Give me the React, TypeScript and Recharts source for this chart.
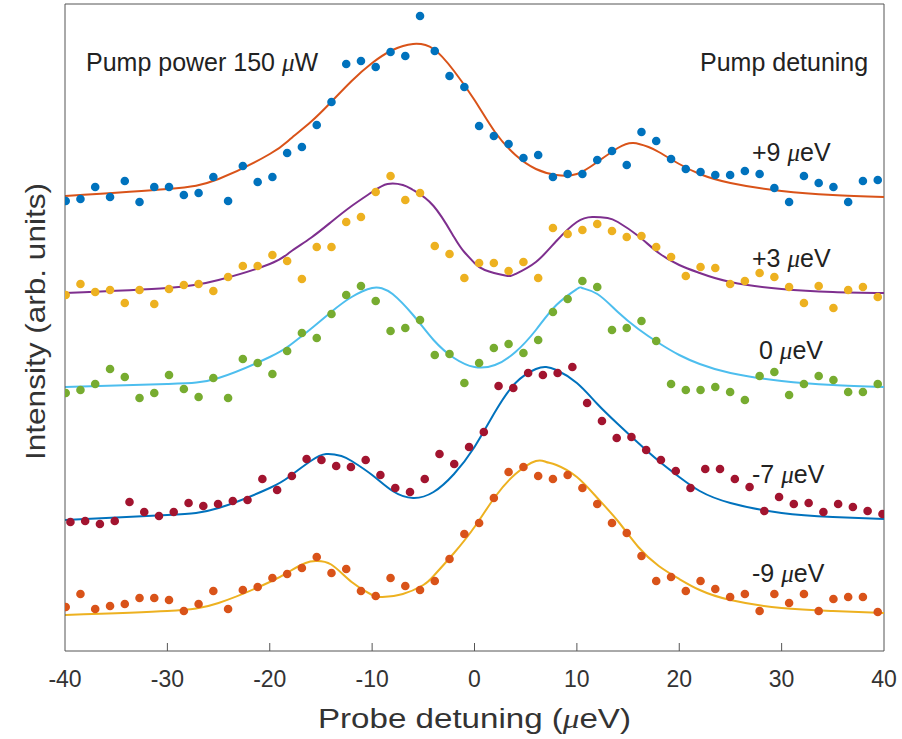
import React from "react";
import {
  ComposedChart,
  Scatter,
  Line,
  XAxis,
  YAxis,
  ReferenceLine,
} from "recharts";

// ---------------- data ----------------
// probe detuning grid (µeV) of the measured points
const X_GRID = [
  -39.93, -38.49, -37.05, -35.6, -34.16, -32.72, -31.28, -29.84, -28.39, -26.95,
  -25.51, -24.07, -22.63, -21.18, -19.74, -18.3, -16.86, -15.41, -13.97, -12.53,
  -11.09, -9.65, -8.2, -6.76, -5.32, -3.88, -2.44, -0.99, 0.45, 1.89,
  3.33, 4.78, 6.22, 7.66, 9.1, 10.54, 11.99, 13.43, 14.87, 16.31,
  17.75, 19.2, 20.64, 22.08, 23.52, 24.97, 26.41, 27.85, 29.29, 30.73,
  32.18, 33.62, 35.06, 36.5, 37.94, 39.39,
];
// grid of the -7 µeV points (slightly shifted)
const X_GRID_M7 = [
  -39.47, -38.03, -36.59, -35.14, -33.7, -32.26, -30.82, -29.38, -27.93, -26.49,
  -25.05, -23.61, -22.17, -20.72, -19.28, -17.84, -16.4, -14.95, -13.51, -12.07,
  -10.63, -9.19, -7.74, -6.3, -4.86, -3.42, -1.98, -0.53, 0.91, 2.35,
  3.79, 5.24, 6.68, 8.12, 9.56, 11.0, 12.45, 13.89, 15.33, 16.77,
  18.21, 19.66, 21.1, 22.54, 23.98, 25.43, 26.87, 28.31, 29.75, 31.19,
  32.64, 34.08, 35.52, 36.96, 38.4, 39.85,
];

// measured intensities (arb. units, vertically offset)
const PTS_P9 = [
  4.5, 4.52, 4.64, 4.54, 4.7, 4.49, 4.64, 4.64, 4.56, 4.58,
  4.74, 4.5, 4.85, 4.69, 4.74, 4.98, 5.04, 5.26, 5.49, 5.87,
  5.9, 5.84, 5.99, 5.95, 6.35, 6.0, 5.75, 5.64, 5.25, 5.15,
  5.07, 4.93, 4.96, 4.74, 4.77, 4.77, 4.91, 5.0, 4.86, 5.19,
  5.1, 4.92, 4.82, 4.79, 4.76, 4.76, 4.8, 4.77, 4.63, 4.49,
  4.75, 4.68, 4.64, 4.49, 4.7, 4.71,
];
const PTS_P3 = [
  3.56, 3.67, 3.59, 3.61, 3.48, 3.61, 3.47, 3.62, 3.66, 3.67,
  3.6, 3.74, 3.85, 3.85, 3.96, 3.9, 3.72, 4.04, 4.04, 4.29,
  4.34, 4.59, 4.75, 4.51, 4.58, 4.05, 3.97, 3.73, 3.88, 3.88,
  3.8, 3.89, 3.73, 4.23, 4.17, 4.21, 4.27, 4.2, 4.14, 4.15,
  4.04, 3.94, 3.75, 3.84, 3.83, 3.67, 3.7, 3.78, 3.74, 3.64,
  3.48, 3.65, 3.43, 3.61, 3.64, 3.54,
];
const PTS_0 = [
  2.58, 2.61, 2.67, 2.82, 2.74, 2.53, 2.58, 2.76, 2.62, 2.54,
  2.73, 2.53, 2.92, 2.88, 2.77, 3.0, 3.18, 3.13, 3.37, 3.56,
  3.65, 3.5, 3.2, 3.23, 3.31, 2.96, 2.97, 2.68, 2.88, 3.03,
  3.07, 2.98, 3.11, 3.39, 3.52, 3.7, 3.64, 3.21, 3.23, 3.3,
  3.1, 2.67, 2.61, 2.61, 2.64, 2.59, 2.51, 2.75, 2.79, 2.56,
  2.67, 2.75, 2.71, 2.59, 2.59, 2.67,
];
const PTS_M7 = [
  1.29, 1.3, 1.27, 1.3, 1.49, 1.39, 1.35, 1.39, 1.48, 1.45,
  1.47, 1.5, 1.51, 1.72, 1.61, 1.75, 1.92, 1.91, 1.85, 1.84,
  1.91, 1.76, 1.63, 1.59, 1.72, 1.97, 1.87, 2.04, 2.19, 2.65,
  2.63, 2.78, 2.76, 2.78, 2.84, 2.48, 2.3, 2.13, 2.14, 2.01,
  1.91, 1.8, 1.63, 1.82, 1.82, 1.72, 1.64, 1.4, 1.54, 1.47,
  1.48, 1.39, 1.47, 1.44, 1.4, 1.37,
];
const PTS_M9 = [
  0.44, 0.57, 0.42, 0.45, 0.47, 0.53, 0.53, 0.51, 0.4, 0.47,
  0.6, 0.42, 0.61, 0.64, 0.73, 0.77, 0.83, 0.94, 0.78, 0.82,
  0.6, 0.55, 0.73, 0.65, 0.61, 0.7, 0.92, 1.17, 1.28, 1.53,
  1.79, 1.84, 1.75, 1.72, 1.76, 1.63, 1.47, 1.28, 1.18, 0.95,
  0.7, 0.74, 0.6, 0.7, 0.62, 0.54, 0.57, 0.4, 0.57, 0.48,
  0.57, 0.4, 0.52, 0.54, 0.54, 0.39,
];

// fitted curves
const FIT_P9_X = [-40, -30, -25, -20, -18, -16, -14, -12, -10, -8, -6, -4, -2, 0, 2, 4, 6, 8, 10, 12, 14, 15.5, 17, 18, 20, 22, 25, 30, 35, 40];
const FIT_P9_Y = [4.55, 4.62, 4.72, 4.97, 5.12, 5.29, 5.49, 5.7, 5.88, 6.01, 6.07, 6.02, 5.8, 5.51, 5.19, 4.96, 4.82, 4.76, 4.77, 4.89, 5.03, 5.08, 5.04, 4.99, 4.87, 4.77, 4.68, 4.6, 4.56, 4.54];

const FIT_P3_X = [-40, -30, -25, -20, -18, -16, -14, -12, -10, -8.5, -7, -6, -4, -2, -1, 0, 1, 3, 4, 6, 8, 10, 11.5, 13, 14, 16, 18, 20, 22, 25, 30, 35, 40];
const FIT_P3_Y = [3.58, 3.63, 3.71, 3.87, 3.99, 4.13, 4.29, 4.45, 4.59, 4.67, 4.66, 4.61, 4.45, 4.14, 3.99, 3.88, 3.81, 3.755, 3.77, 3.89, 4.1, 4.29, 4.34, 4.33, 4.29, 4.15, 3.98, 3.86, 3.78, 3.69, 3.62, 3.59, 3.58];

const FIT_0_X = [-40, -30, -25, -20, -18, -16, -14, -12, -10, -9, -8, -6, -4, -2, 0, 2, 4, 6, 8, 10, 10.5, 12, 14, 16, 18, 20, 22, 25, 30, 35, 40];
const FIT_0_Y = [2.64, 2.67, 2.73, 2.94, 3.06, 3.22, 3.39, 3.54, 3.63, 3.625, 3.57, 3.36, 3.11, 2.93, 2.84, 2.86, 2.99, 3.21, 3.46, 3.62, 3.63, 3.57, 3.39, 3.22, 3.08, 2.96, 2.87, 2.78, 2.7, 2.66, 2.64];

const FIT_M7_X = [-40, -30, -25, -20, -18, -16, -14.5, -13, -12, -10, -8, -6, -4, -2, 0, 2, 4, 6, 7, 8, 10, 12, 14, 16, 18, 20, 22, 25, 30, 35, 40];
const FIT_M7_Y = [1.31, 1.36, 1.43, 1.63, 1.75, 1.9, 1.97, 1.95, 1.9, 1.76, 1.6, 1.53, 1.59, 1.77, 2.04, 2.39, 2.68, 2.82, 2.84, 2.81, 2.68, 2.47, 2.27, 2.08, 1.9, 1.74, 1.6, 1.48, 1.38, 1.34, 1.32];

const FIT_M9_X = [-40, -30, -25, -20, -18, -16.5, -15.5, -14, -12, -10, -9, -7, -5, -4, -2, 0, 2, 4, 6, 7, 8, 10, 12, 14, 16, 18, 20, 22, 25, 30, 35, 40];
const FIT_M9_Y = [0.36, 0.4, 0.48, 0.69, 0.8, 0.88, 0.9, 0.865, 0.69, 0.56, 0.54, 0.57, 0.66, 0.75, 0.98, 1.24, 1.54, 1.77, 1.9, 1.89, 1.86, 1.74, 1.53, 1.3, 1.04, 0.85, 0.72, 0.61, 0.51, 0.43, 0.4, 0.38];

const X_TICKS = [-40, -30, -20, -10, 0, 10, 20, 30, 40];
const PUMP_LABELS = ["+9", "+3", "0", "-7", "-9"];

// ---------------- helpers ----------------
const zip = (xs: number[], ys: number[]) => xs.map((x, i) => ({ x, y: ys[i] }));

const FONT = '"Liberation Sans", Arial, Helvetica, sans-serif';
const MU_FONT = '"Liberation Serif", "Times New Roman", serif';
const AXIS = "#555555";
const TXT = "#333333";
const TICK_PX = 8;

const isEdge = (v: number) => v === X_TICKS[0] || v === X_TICKS[X_TICKS.length - 1];

const BottomTick = (props: any) => {
  const { x, y, payload } = props;
  return (
    <g>
      {!isEdge(payload.value) && (
        <line x1={x} x2={x} y1={y - TICK_PX} y2={y} stroke={AXIS} strokeWidth={1} />
      )}
      <text
        x={x}
        y={y + 36}
        textAnchor="middle"
        fontFamily={FONT}
        fontSize={23}
        fill={TXT}
      >
        {String(payload.value)}
      </text>
    </g>
  );
};

const TopTick = (props: any) => {
  const { x, y, payload } = props;
  if (isEdge(payload.value)) return <g />;
  return <line x1={x} x2={x} y1={y} y2={y + TICK_PX} stroke={AXIS} strokeWidth={1} />;
};

const dotShape = (color: string) => (p: any) =>
  <circle cx={p.cx} cy={p.cy} r={4.3} fill={color} />;

const Mu = () => (
  <tspan fontFamily={MU_FONT} fontStyle="italic">μ</tspan>
);

const XLabel = (props: any) => {
  const vb = props.viewBox || { x: 65, y: 651, width: 819, height: 30 };
  const cx = vb.x + vb.width / 2;
  return (
    <text
      x={cx}
      y={vb.y + 77}
      textAnchor="middle"
      fontFamily={FONT}
      fontSize={27}
      fill={TXT}
      textLength={313}
      lengthAdjust="spacingAndGlyphs"
    >
      Probe detuning (<Mu />eV)
    </text>
  );
};

const YLabel = (props: any) => {
  const vb = props.viewBox || { x: 5, y: 4, width: 60, height: 647 };
  const bx = vb.x + 40;
  const cy = vb.y + vb.height / 2 - 6;
  return (
    <text
      x={bx}
      y={cy}
      transform={`rotate(-90 ${bx} ${cy})`}
      textAnchor="middle"
      fontFamily={FONT}
      fontSize={28}
      fill={TXT}
      textLength={277}
      lengthAdjust="spacingAndGlyphs"
    >
      Intensity (arb. units)
    </text>
  );
};

const series = [
  { pts: zip(X_GRID, PTS_P9), fit: zip(FIT_P9_X, FIT_P9_Y), dot: "#0072BD", line: "#D95319" },
  { pts: zip(X_GRID, PTS_P3), fit: zip(FIT_P3_X, FIT_P3_Y), dot: "#EDB120", line: "#7E2F8E" },
  { pts: zip(X_GRID, PTS_0), fit: zip(FIT_0_X, FIT_0_Y), dot: "#77AC30", line: "#4DBEEE" },
  { pts: zip(X_GRID_M7, PTS_M7), fit: zip(FIT_M7_X, FIT_M7_Y), dot: "#A2142F", line: "#0072BD" },
  { pts: zip(X_GRID, PTS_M9), fit: zip(FIT_M9_X, FIT_M9_Y), dot: "#D95319", line: "#EDB120" },
];

export default function App() {
  const labelPos = [
    { x: 752, y: 161 },
    { x: 752, y: 267 },
    { x: 759, y: 359 },
    { x: 752, y: 483 },
    { x: 752, y: 582 },
  ];
  return (
    <div style={{ position: "absolute", left: 0, top: 0, width: 902, height: 739, background: "#fff" }}>
      <ComposedChart
        width={902}
        height={739}
        margin={{ top: 3, right: 18, bottom: 58, left: 5 }}
      >
        <XAxis
          dataKey="x"
          type="number"
          domain={[-40, 40]}
          ticks={X_TICKS}
          interval={0}
          allowDataOverflow
          height={30}
          stroke={AXIS}
          tickLine={false}
          tickSize={0}
          tickMargin={0}
          tick={BottomTick}
          label={{ content: XLabel }}
        />
        <XAxis
          xAxisId="top"
          orientation="top"
          type="number"
          domain={[-40, 40]}
          ticks={X_TICKS}
          interval={0}
          allowDataOverflow
          height={1}
          stroke={AXIS}
          tickLine={false}
          tickSize={0}
          tickMargin={0}
          tick={TopTick}
        />
        <YAxis
          type="number"
          domain={[0, 6.47]}
          allowDataOverflow
          width={60}
          stroke={AXIS}
          tick={false}
          tickLine={false}
          label={{ content: YLabel }}
        />
        <ReferenceLine x={40} stroke={AXIS} />
        {series.map((s, i) => (
          <Scatter
            key={"s" + i}
            data={s.pts}
            dataKey="y"
            fill={s.dot}
            shape={dotShape(s.dot)}
            isAnimationActive={false}
          />
        ))}
        {series.map((s, i) => (
          <Line
            key={"l" + i}
            data={s.fit}
            dataKey="y"
            type="natural"
            stroke={s.line}
            strokeWidth={2}
            dot={false}
            activeDot={false}
            isAnimationActive={false}
          />
        ))}
      </ComposedChart>
      <svg
        width={902}
        height={739}
        style={{ position: "absolute", left: 0, top: 0, pointerEvents: "none" }}
      >
        <g fontFamily={FONT} fontSize={25} fill="#222">
          <text x={86} y={71}>
            Pump power 150 <Mu />W
          </text>
          <text x={700} y={71}>Pump detuning</text>
          {PUMP_LABELS.map((l, i) => (
            <text key={l} x={labelPos[i].x} y={labelPos[i].y}>
              {l} <Mu />eV
            </text>
          ))}
        </g>
      </svg>
    </div>
  );
}
